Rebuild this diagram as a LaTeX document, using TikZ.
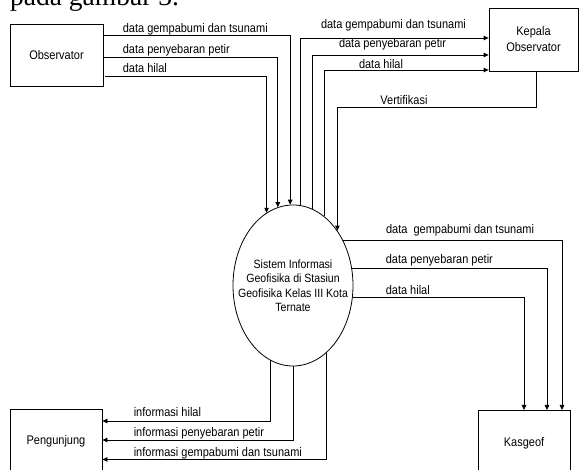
\documentclass[tikz,border=0pt]{standalone}
\usepackage{fontspec}
\setmainfont{Liberation Sans}[FakeStretch=0.88]
\newfontfamily\headfont{Liberation Serif}
\usetikzlibrary{arrows.meta,calc,shapes.geometric}

\begin{document}
\begin{tikzpicture}
      [x = 1pt, y = -1pt,
      flow/.style={-{Triangle[length=5pt,width=4.5pt]}, line width = 0.8pt},
      entity/.style= {
         draw,
         line width = 0.8pt,
         font = \fontsize{12.5}{16}\selectfont,
         align = center
      },
      sink/.style= {
         draw,
         line width = 0.8pt,
         anchor = north,
         inner ysep = 0pt,
         text depth = 60pt,
         font = \fontsize{12.5}{16}\selectfont
      },
      process/.style= {
         draw,
         ellipse,
         line width = 0.8pt,
         inner sep = 0pt,
         minimum width = 120pt,
         minimum height = 161pt
      },
      lbl/.style= {
         anchor = base west,
         inner sep = 0pt,
         font = \fontsize{12.5}{14}\selectfont
      }]

      \useasboundingbox (0, 0) rectangle (579, 470);
      \clip (0, 0) rectangle (579, 470);

      \node[anchor = base west, inner sep = 0pt, font = \headfont\fontsize{27.5}{30}\selectfont] (caption) at (10, 6) {pada gambar 3.};

      \node[entity, minimum width = 93pt, minimum height = 62pt] (observator) at (56.5, 55) {Observator};
      \node[entity, minimum width = 89pt, minimum height = 63pt] (kepala) at (533.5, 39.5) {Kepala\\Observator};
      \node[sink, minimum width = 92pt, text height = 36.5pt] (kasgeof) at (524, 410) {Kasgeof};
      \node[sink, minimum width = 92pt, text height = 35pt] (pengunjung) at (56, 409) {Pengunjung};
      \node[process] (sistem) at (293, 285.5) {};
      \node[align = center, font = \fontsize{12}{14.5}\selectfont] (sistemtext) at (sistem)
         {Sistem Informasi\\Geofisika di Stasiun\\Geofisika Kelas III Kota\\Ternate};

      % Observator -> sistem
      \draw[flow] ($(observator.east)+(0,-20)$) node[lbl, xshift = 19pt, yshift = 2.5pt] {data gempabumi dan tsunami} -| (sistem.92.85);
      \draw[flow] ($(observator.east)+(0,2)$) node[lbl, xshift = 19pt, yshift = 3pt] {data penyebaran petir} -| (sistem.101.65);
      \draw[flow, shorten <= 2pt] ($(observator.east)+(0,21)$) node[lbl, xshift = 19pt, yshift = 3pt] {data hilal} -| (sistem.110.6);

      % sistem -> Kepala Observator
      \draw[flow] (sistem.85.7) |- ($(kepala.west)+(0,-1.5)$) node[lbl, xshift = -168pt, yshift = 9.5pt] {data gempabumi dan tsunami};
      \draw[flow] (sistem.76.8) |- ($(kepala.west)+(0,15.5)$) node[lbl, xshift = -150pt, yshift = 7.5pt] {data penyebaran petir};
      \draw[flow] (sistem.66.7) |- ($(kepala.west)+(0,30.5)$) node[lbl, xshift = -130pt, yshift = 1.5pt] {data hilal};
      \draw[flow] ($(kepala.south)+(2.5,0)$) -- ++(0, 36) node[lbl, xshift = -156pt, yshift = 3pt] {Vertifikasi} -| (sistem.51.2);

      % sistem -> Kasgeof
      \draw[flow] (sistem.42.6) node[lbl, xshift = 42.5pt, yshift = 7pt] {data\ \ gempabumi dan tsunami} -| ($(kasgeof.north)+(38,0)$);
      \draw[flow] (sistem.16.6) node[lbl, xshift = 33.4pt, yshift = 5pt] {data penyebaran petir} -| ($(kasgeof.north)+(23,0)$);
      \draw[flow] (sistem.349.04) node[lbl, xshift = 32.6pt, yshift = 3pt] {data hilal} -| (kasgeof.north);

      % sistem -> Pengunjung
      \draw[flow] (sistem.253.6) |- ($(pengunjung.north east)+(0,12)$) node[lbl, xshift = 31pt, yshift = 4pt] {informasi hilal};
      \draw[flow] (sistem.south) |- ($(pengunjung.north east)+(0,31)$) node[lbl, xshift = 31pt, yshift = 3pt] {informasi penyebaran petir};
      \draw[flow] (sistem.296.2) |- ($(pengunjung.north east)+(0,50.5)$) node[lbl, xshift = 31pt, yshift = 3pt] {informasi gempabumi dan tsunami};

   \end{tikzpicture}
\end{document}
